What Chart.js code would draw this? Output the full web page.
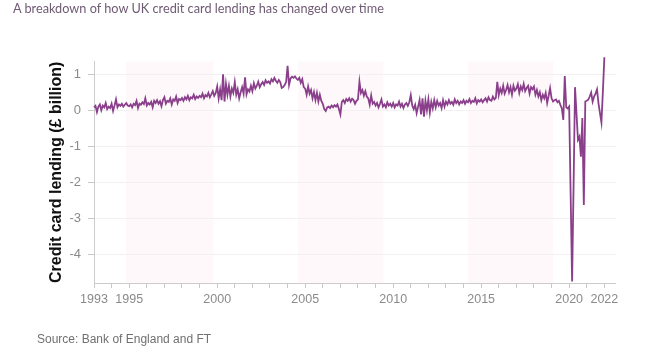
<!DOCTYPE html>
<html><head><meta charset="utf-8">
<script src="https://cdn.jsdelivr.net/npm/chart.js@4"></script>
<style>
html,body{margin:0;padding:0;background:#fff;width:671px;height:358px;overflow:hidden;}
#wrap{position:relative;width:671px;height:358px;}
#c{position:absolute;left:0;top:0;}
#title{position:absolute;left:13px;top:2px;font-family:Lato,sans-serif;font-size:15px;color:#6f5b74;white-space:nowrap;line-height:1;}
#source{position:absolute;left:37px;top:333px;font-family:"Liberation Sans",Arial,sans-serif;font-size:12px;color:#707070;white-space:nowrap;line-height:1;}
</style></head><body>
<div id="wrap"><canvas id="c" width="671" height="358"></canvas>
<div id="title">A breakdown of how UK credit card lending has changed over time</div>
<div id="source">Source: Bank of England and FT</div></div>
<script>
// Monthly net credit card lending (£ billion), starting January 1993
const startYear = 1993;
const lending = [
  0.10, 0.14, -0.03, 0.12, 0.18, 0.02, 0.15, 0.10, 0.22, 0.05, 0.12, 0.08,  // 1993
  0.20, 0.00, 0.15, 0.32, 0.10, 0.18, 0.14, 0.20, 0.12, 0.17, 0.22, 0.15,  // 1994
  0.13, 0.18, 0.10, 0.20, 0.16, 0.28, 0.08, 0.20, 0.17, 0.24, 0.19, 0.35,  // 1995
  0.15, 0.22, 0.18, 0.25, 0.10, 0.28, 0.22, 0.30, 0.20, 0.27, 0.13, 0.30,  // 1996
  0.38, 0.20, 0.28, 0.25, 0.35, 0.18, 0.32, 0.28, 0.40, 0.22, 0.33, 0.30,  // 1997
  0.36, 0.28, 0.38, 0.32, 0.42, 0.30, 0.38, 0.35, 0.45, 0.33, 0.40, 0.36,  // 1998
  0.42, 0.38, 0.48, 0.35, 0.44, 0.40, 0.50, 0.38, 0.46, 0.55, 0.42, 0.50,  // 1999
  0.68, 0.35, 0.60, 0.30, 1.02, 0.26, 0.75, 0.45, 0.70, 0.40, 0.62, 0.50,  // 2000
  0.80, 0.45, 0.60, 0.35, 0.52, 0.66, 0.48, 0.93, 0.46, 0.60, 0.54, 0.70,  // 2001
  0.55, 0.77, 0.62, 0.70, 0.81, 0.66, 0.74, 0.80, 0.72, 0.85, 0.78, 0.82,  // 2002
  0.76, 0.88, 0.82, 0.92, 0.84, 0.78, 0.86, 0.80, 0.64, 0.66, 0.72, 0.80,  // 2003
  1.25, 0.72, 0.90, 0.95, 0.92, 0.96, 0.90, 0.86, 0.92, 0.78, 0.88, 0.66,  // 2004
  0.62, 0.45, 0.68, 0.48, 0.58, 0.35, 0.52, 0.30, 0.50, 0.26, 0.45, 0.28,  // 2005
  0.20, 0.05, 0.00, 0.10, 0.12, 0.08, 0.15, 0.10, 0.16, 0.12, 0.18, 0.05,  // 2006
  -0.10, 0.25, 0.30, 0.22, 0.33, 0.28, 0.35, 0.26, 0.34, 0.30, 0.20, 0.28, // 2007
  0.32, 0.81, 0.50, 0.58, 0.42, 0.55, 0.40, 0.35, 0.17, 0.43, 0.20, 0.25,  // 2008
  0.15, 0.22, 0.10, 0.20, 0.32, 0.12, 0.18, 0.10, 0.24, 0.15, 0.20, 0.12,  // 2009
  0.22, 0.10, 0.18, 0.15, 0.26, 0.12, 0.20, 0.08, 0.18, 0.22, 0.14, 0.24,  // 2010
  0.44, 0.15, 0.05, 0.17, -0.06, 0.12, 0.30, -0.10, 0.35, -0.16, 0.28, 0.02, // 2011
  0.32, -0.05, 0.25, 0.07, 0.30, 0.10, 0.28, 0.15, 0.22, 0.08, 0.30, 0.12, // 2012
  0.26, 0.18, 0.30, 0.20, 0.25, 0.17, 0.32, 0.22, 0.28, 0.18, 0.26, 0.22,  // 2013
  0.30, 0.20, 0.28, 0.24, 0.33, 0.22, 0.28, 0.25, 0.35, 0.21, 0.30, 0.26,  // 2014
  0.32, 0.24, 0.30, 0.35, 0.26, 0.38, 0.30, 0.28, 0.40, 0.32, 0.36, 0.81,  // 2015
  0.44, 0.62, 0.50, 0.70, 0.48, 0.58, 0.72, 0.52, 0.66, 0.45, 0.70, 0.56,  // 2016
  0.62, 0.74, 0.50, 0.68, 0.58, 0.75, 0.55, 0.64, 0.70, 0.48, 0.66, 0.60,  // 2017
  0.68, 0.45, 0.58, 0.40, 0.52, 0.30, 0.45, 0.35, 0.50, 0.22, 0.42, 0.63,  // 2018
  0.35, 0.26, 0.30, 0.32, 0.24, 0.28, 0.17, 0.07, -0.25, 0.97, 0.10, 0.07, // 2019
  0.12, -2.30, -4.74, -2.10, 0.66, -0.07, -0.80, -0.71, -1.27, -0.20, -2.61, 0.26, // 2020
  0.28, 0.31, 0.40, 0.51, 0.26, 0.40, 0.48, 0.60, 0.21, -0.06, -0.32, 0.55, // 2021
  1.49  // 2022
];
const tickYears = [];
for (let y = 1993; y <= 2022; y++) tickYears.push(y);
const labelledYears = [1993, 1995, 2000, 2005, 2010, 2015, 2020, 2022];
const valueTicks = [-4, -3, -2, -1, 0, 1];
const bandStarts = [1994.8, 2004.6, 2014.25];
const bandEnds   = [1999.8, 2009.45, 2019.1];

// fit title width
(function(){
  const t = document.getElementById('title');
  const cx = document.createElement('canvas').getContext('2d');
  cx.font = '15px Lato';
  const w = cx.measureText(t.textContent).width;
  t.style.fontSize = (15 * 372 / w).toFixed(2) + 'px';
})();

const bandsPlugin = {
  id: 'bands',
  beforeDraw(chart) {
    const {ctx, chartArea: {top, bottom}, scales: {x}} = chart;
    ctx.save();
    ctx.fillStyle = 'rgba(248, 212, 232, 0.16)';
    bandStarts.forEach((s, i) => {
      const x0 = x.getPixelForValue(s), x1 = x.getPixelForValue(bandEnds[i]);
      ctx.fillRect(x0, top, x1 - x0, bottom - top);
    });
    ctx.restore();
  }
};

new Chart(document.getElementById('c'), {
  type: 'line',
  data: {
    datasets: [{
      data: lending.map((v, i) => ({x: startYear + i / 12, y: v})),
      borderColor: '#8a3f8b',
      borderWidth: 1.8,
      pointRadius: 0,
      tension: 0,
      clip: false
    }]
  },
  options: {
    responsive: false,
    animation: false,
    devicePixelRatio: 1,
    layout: {padding: {top: 61.6, right: 55.2, bottom: 0, left: 0}},
    plugins: {legend: {display: false}, tooltip: {enabled: false}},
    scales: {
      x: {
        type: 'linear',
        min: 1993,
        max: 2022.65,
        afterBuildTicks: s => { s.ticks = tickYears.map(v => ({value: v})); },
        afterFit: s => { s.height = 75; },
        ticks: {
          autoSkip: false, maxRotation: 0, minRotation: 0,
          callback: v => labelledYears.includes(v) ? String(v) : '',
          font: {family: 'Liberation Sans', size: 12.5},
          color: '#8a8a8a',
          padding: 4
        },
        grid: {drawOnChartArea: false, tickLength: 5, tickColor: '#c8c8c8'},
        border: {color: '#cccccc'}
      },
      y: {
        min: -4.78,
        max: 1.37,
        afterBuildTicks: s => { s.ticks = valueTicks.map(v => ({value: v})); },
        afterFit: s => { s.width = 94; },
        ticks: {
          callback: v => String(v),
          font: {family: 'Liberation Sans', size: 13},
          color: '#8a8a8a',
          padding: 7
        },
        grid: {color: '#f3f0f3', tickLength: 6, tickColor: '#c8c8c8'},
        border: {color: '#cccccc'},
        title: {
          display: true,
          text: 'Credit card lending (£ billion)',
          font: {family: 'Liberation Sans', size: 16, weight: 'bold'},
          color: '#111111',
          padding: {top: 47, bottom: 0}
        }
      }
    }
  },
  plugins: [bandsPlugin]
});
</script>
</body></html>
